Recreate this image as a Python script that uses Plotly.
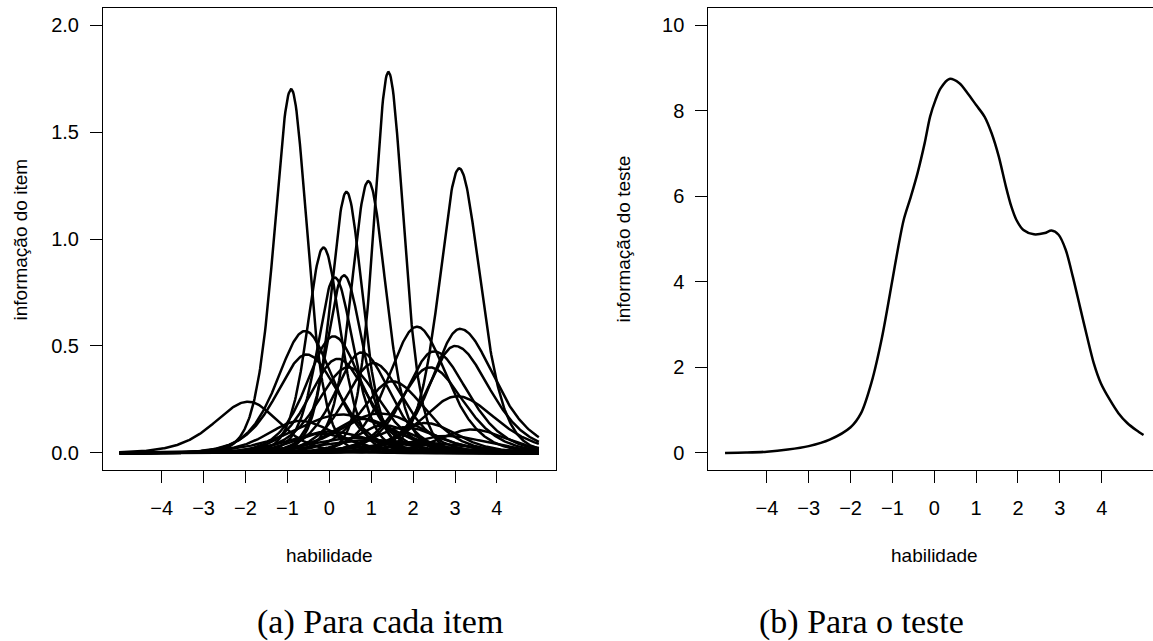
import numpy as np
import plotly.graph_objects as go

# ---- Left panel: item information curves (peak position, peak height, half widths)
item_peak_theta = [-1.93, -0.91, -0.58, -0.54, -0.14, 0.13, 0.35, 0.41, 0.93, 1.41,
                   0.10, 0.20, 0.45, 0.77, 1.05, 1.50, 2.09, 2.40, 2.50, 3.00,
                   3.12, 3.10, 3.05, 0.30, 1.20, -0.70, 0.00, 1.80, 2.80, 1.00,
                   -0.20, 2.30, 3.40, 0.60, 2.00, 1.30, 0.80]
item_peak_info = [0.24, 1.70, 0.57, 0.46, 0.96, 0.82, 0.83, 1.22, 1.27, 1.78,
                  0.545, 0.44, 0.40, 0.47, 0.42, 0.335, 0.59, 0.40, 0.475, 0.50,
                  0.58, 1.33, 0.265, 0.18, 0.185, 0.15, 0.10, 0.12, 0.08, 0.06,
                  0.09, 0.14, 0.11, 0.07, 0.05, 0.13, 0.16]
item_hw_left = [0.95, 0.48, 0.78, 0.85, 0.46, 0.49, 0.49, 0.44, 0.48, 0.41,
                0.75, 0.80, 0.85, 0.75, 0.80, 0.85, 0.80, 0.85, 0.80, 0.78,
                0.78, 0.56, 1.00, 1.30, 1.10, 0.90, 1.10, 0.90, 1.10, 1.40,
                0.80, 0.80, 0.90, 1.20, 1.40, 0.80, 0.90]
item_hw_right = [0.85, 0.45, 0.80, 0.90, 0.48, 0.53, 0.53, 0.45, 0.50, 0.43,
                 0.80, 0.85, 0.90, 0.80, 0.85, 0.95, 0.85, 0.95, 0.95, 0.98,
                 0.98, 0.60, 1.10, 1.40, 1.20, 1.00, 1.20, 1.00, 1.20, 1.50,
                 0.90, 0.90, 1.00, 1.30, 1.50, 0.90, 1.00]

# ---- Right panel: test information curve
test_theta = [-5.0, -4.5, -4.0, -3.5, -3.0, -2.5, -2.0, -1.75, -1.5, -1.25,
              -1.0, -0.86, -0.73, -0.56, -0.40, -0.23, -0.10, 0.03, 0.15, 0.36,
              0.6, 0.8, 1.0, 1.2, 1.37, 1.54, 1.71, 1.84, 1.96, 2.13,
              2.38, 2.64, 2.80, 2.97, 3.14, 3.31, 3.48, 3.65, 3.81, 3.98,
              4.19, 4.40, 4.61, 4.83, 5.0]
test_info = [0.0, 0.01, 0.03, 0.08, 0.16, 0.31, 0.60, 0.93, 1.65, 2.70,
             4.05, 4.82, 5.45, 5.99, 6.54, 7.24, 7.86, 8.25, 8.52, 8.74,
             8.64, 8.40, 8.13, 7.86, 7.47, 6.93, 6.23, 5.76, 5.45, 5.21,
             5.11, 5.14, 5.20, 5.10, 4.75, 4.12, 3.42, 2.72, 2.10, 1.63,
             1.25, 0.93, 0.70, 0.53, 0.42]

x_tick_vals = [-4, -3, -2, -1, 0, 1, 2, 3, 4]
x_tick_text = ["\u22124", "\u22123", "\u22122", "\u22121", "0", "1", "2", "3", "4"]
item_y_vals = [0.0, 0.5, 1.0, 1.5, 2.0]
item_y_text = ["0.0", "0.5", "1.0", "1.5", "2.0"]
test_y_vals = [0, 2, 4, 6, 8, 10]
test_y_text = ["0", "2", "4", "6", "8", "10"]

x_title = "habilidade"
y_title_item = "informação do item"
y_title_test = "informação do teste"
caption_a = "(a) Para cada item"
caption_b = "(b) Para o teste"

W, H = 1153, 641
theta_grid = np.linspace(-5, 5, 601)

fig = go.Figure()
for m, h, wl, wr in zip(item_peak_theta, item_peak_info, item_hw_left, item_hw_right):
    hw = np.where(theta_grid < m, wl, wr)
    u = 0.8814 * (theta_grid - m) / hw
    info = h / np.cosh(u) ** 2
    fig.add_trace(go.Scatter(x=theta_grid, y=info, mode="lines",
                             line=dict(color="black", width=2.5),
                             xaxis="x", yaxis="y", showlegend=False, hoverinfo="skip"))

fig.add_trace(go.Scatter(x=test_theta, y=test_info, mode="lines",
                         line=dict(color="black", width=2.5, shape="spline", smoothing=0.8),
                         xaxis="x2", yaxis="y2", showlegend=False, hoverinfo="skip"))

def px(x):
    return x / W

def py(y):
    return 1 - y / H

sans = "Liberation Sans, Arial, Helvetica, sans-serif"
serif = "Liberation Serif, Times New Roman, serif"
tick_font = dict(family=sans, size=20, color="black")

common = dict(showgrid=False, zeroline=False, showline=True, linecolor="black",
              linewidth=1, ticks="outside", ticklen=12, tickwidth=1, tickcolor="black",
              tickfont=tick_font, fixedrange=True)

ydom = [py(470.1), py(7.9)]

fig.update_layout(
    width=W, height=H,
    margin=dict(l=0, r=0, t=0, b=0),
    paper_bgcolor="white", plot_bgcolor="white",
    showlegend=False,
    xaxis=dict(domain=[px(103.0), px(555.6)], range=[-5.4, 5.4], anchor="y",
               tickvals=x_tick_vals, ticktext=x_tick_text, mirror=True,
               ticklabelstandoff=8, **common),
    yaxis=dict(domain=ydom, range=[-0.08, 2.08], anchor="x",
               tickvals=item_y_vals, ticktext=item_y_text, mirror=True,
               ticklabelstandoff=7, **common),
    xaxis2=dict(domain=[px(708.3), 1.0], range=[-5.4, 5.226], anchor="y2",
                tickvals=x_tick_vals, ticktext=x_tick_text, mirror=True,
                ticklabelstandoff=8, **common),
    yaxis2=dict(domain=ydom, range=[-0.4, 10.4], anchor="x2",
                tickvals=test_y_vals, ticktext=test_y_text, mirror=False,
                ticklabelstandoff=7, **common),
)

ann = [
    dict(text=y_title_item, x=px(20), y=py(239.5), textangle=-90, font=dict(family=sans, size=19, color="black")),
    dict(text=y_title_test, x=px(623), y=py(239.5), textangle=-90, font=dict(family=sans, size=19, color="black")),
    dict(text=x_title, x=px(329.3), y=py(555), font=dict(family=sans, size=19, color="black")),
    dict(text=x_title, x=px(934.3), y=py(555), font=dict(family=sans, size=19, color="black")),
    dict(text=caption_a, x=px(380.5), y=py(622), font=dict(family=serif, size=34, color="black")),
    dict(text=caption_b, x=px(861), y=py(622), font=dict(family=serif, size=34, color="black")),
]
for a in ann:
    a.update(xref="paper", yref="paper", xanchor="center", yanchor="middle", showarrow=False)
fig.update_layout(annotations=ann)

fig.write_html("out.html")
